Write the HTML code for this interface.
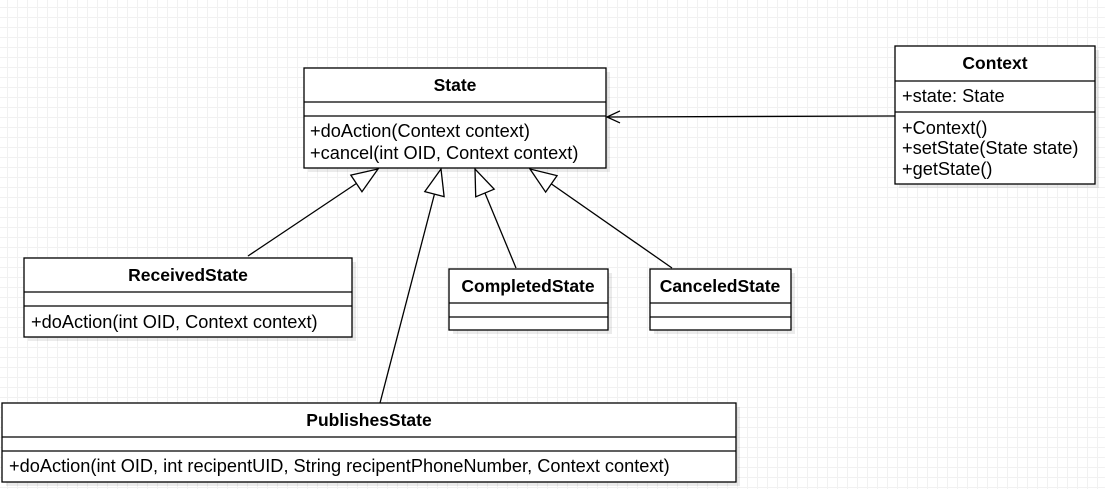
<!DOCTYPE html>
<html><head><meta charset="utf-8"><style>
html,body{margin:0;padding:0;background:#fff;}
body{width:1105px;height:489px;overflow:hidden;
background-image:linear-gradient(#f1f1f1 1px,transparent 1px),linear-gradient(90deg,#f1f1f1 1px,transparent 1px);
background-size:10px 10px;background-position:-3px -3px;}
svg{position:absolute;left:0;top:0;}
text{font-family:"Liberation Sans",Arial,sans-serif;font-size:18.2px;fill:#000;}
.b{font-weight:bold;font-size:17.5px;}
</style></head><body>
<svg width="1105" height="489" viewBox="0 0 1105 489">
<defs>
<marker id="tri" markerUnits="userSpaceOnUse" markerWidth="30" markerHeight="24" refX="27" refY="11" orient="auto">
<path d="M1,1 L27,11 L1,21 Z" fill="#fff" stroke="#000" stroke-width="1.3"/>
</marker>
<marker id="open" markerUnits="userSpaceOnUse" markerWidth="16" markerHeight="16" refX="14" refY="7" orient="auto">
<path d="M1,1 L14,7 L1,13" fill="none" stroke="#000" stroke-width="1.3"/>
</marker>
</defs>
<g fill="#000" opacity="0.08">
<rect x="308" y="72" width="302" height="100"/>
<rect x="899" y="50" width="200" height="138"/>
<rect x="28" y="262" width="328" height="79"/>
<rect x="453" y="273" width="159" height="61"/>
<rect x="654" y="273" width="141" height="61"/>
<rect x="6" y="407" width="734" height="79"/>
</g>
<g fill="#fff" stroke="#000" stroke-width="1.3">
<rect x="304" y="68" width="302" height="100"/>
<line x1="304" y1="102" x2="606" y2="102"/><line x1="304" y1="116" x2="606" y2="116"/>
<rect x="895" y="46" width="200" height="138"/>
<line x1="895" y1="81" x2="1095" y2="81"/><line x1="895" y1="112" x2="1095" y2="112"/>
<rect x="24" y="258" width="328" height="79"/>
<line x1="24" y1="292" x2="352" y2="292"/><line x1="24" y1="306" x2="352" y2="306"/>
<rect x="449" y="269" width="159" height="61"/>
<line x1="449" y1="303" x2="608" y2="303"/><line x1="449" y1="317" x2="608" y2="317"/>
<rect x="650" y="269" width="141" height="61"/>
<line x1="650" y1="303" x2="791" y2="303"/><line x1="650" y1="317" x2="791" y2="317"/>
<rect x="2" y="403" width="734" height="79"/>
<line x1="2" y1="437" x2="736" y2="437"/><line x1="2" y1="451" x2="736" y2="451"/>
</g>
<g stroke="#000" stroke-width="1.3" fill="none">
<line x1="895" y1="116" x2="607" y2="117" marker-end="url(#open)"/>
<line x1="248" y1="256" x2="378" y2="169" marker-end="url(#tri)"/>
<line x1="380" y1="403" x2="441" y2="169" marker-end="url(#tri)"/>
<line x1="516" y1="268" x2="475" y2="169" marker-end="url(#tri)"/>
<line x1="672" y1="268" x2="530" y2="169" marker-end="url(#tri)"/>
</g>
<text class="b" x="455" y="91" text-anchor="middle">State</text>
<text x="310" y="137">+doAction(Context context)</text>
<text x="310" y="159">+cancel(int OID, Context context)</text>
<text class="b" x="995" y="69" text-anchor="middle">Context</text>
<text x="902" y="102">+state: State</text>
<text x="902" y="134">+Context()</text>
<text x="902" y="154">+setState(State state)</text>
<text x="902" y="175">+getState()</text>
<text class="b" x="188" y="281" text-anchor="middle">ReceivedState</text>
<text x="31" y="328">+doAction(int OID, Context context)</text>
<text class="b" x="528" y="292" text-anchor="middle">CompletedState</text>
<text class="b" x="720" y="292" text-anchor="middle">CanceledState</text>
<text class="b" x="369" y="426" text-anchor="middle">PublishesState</text>
<text x="9" y="472">+doAction(int OID, int recipentUID, String recipentPhoneNumber, Context context)</text>
</svg>
</body></html>
